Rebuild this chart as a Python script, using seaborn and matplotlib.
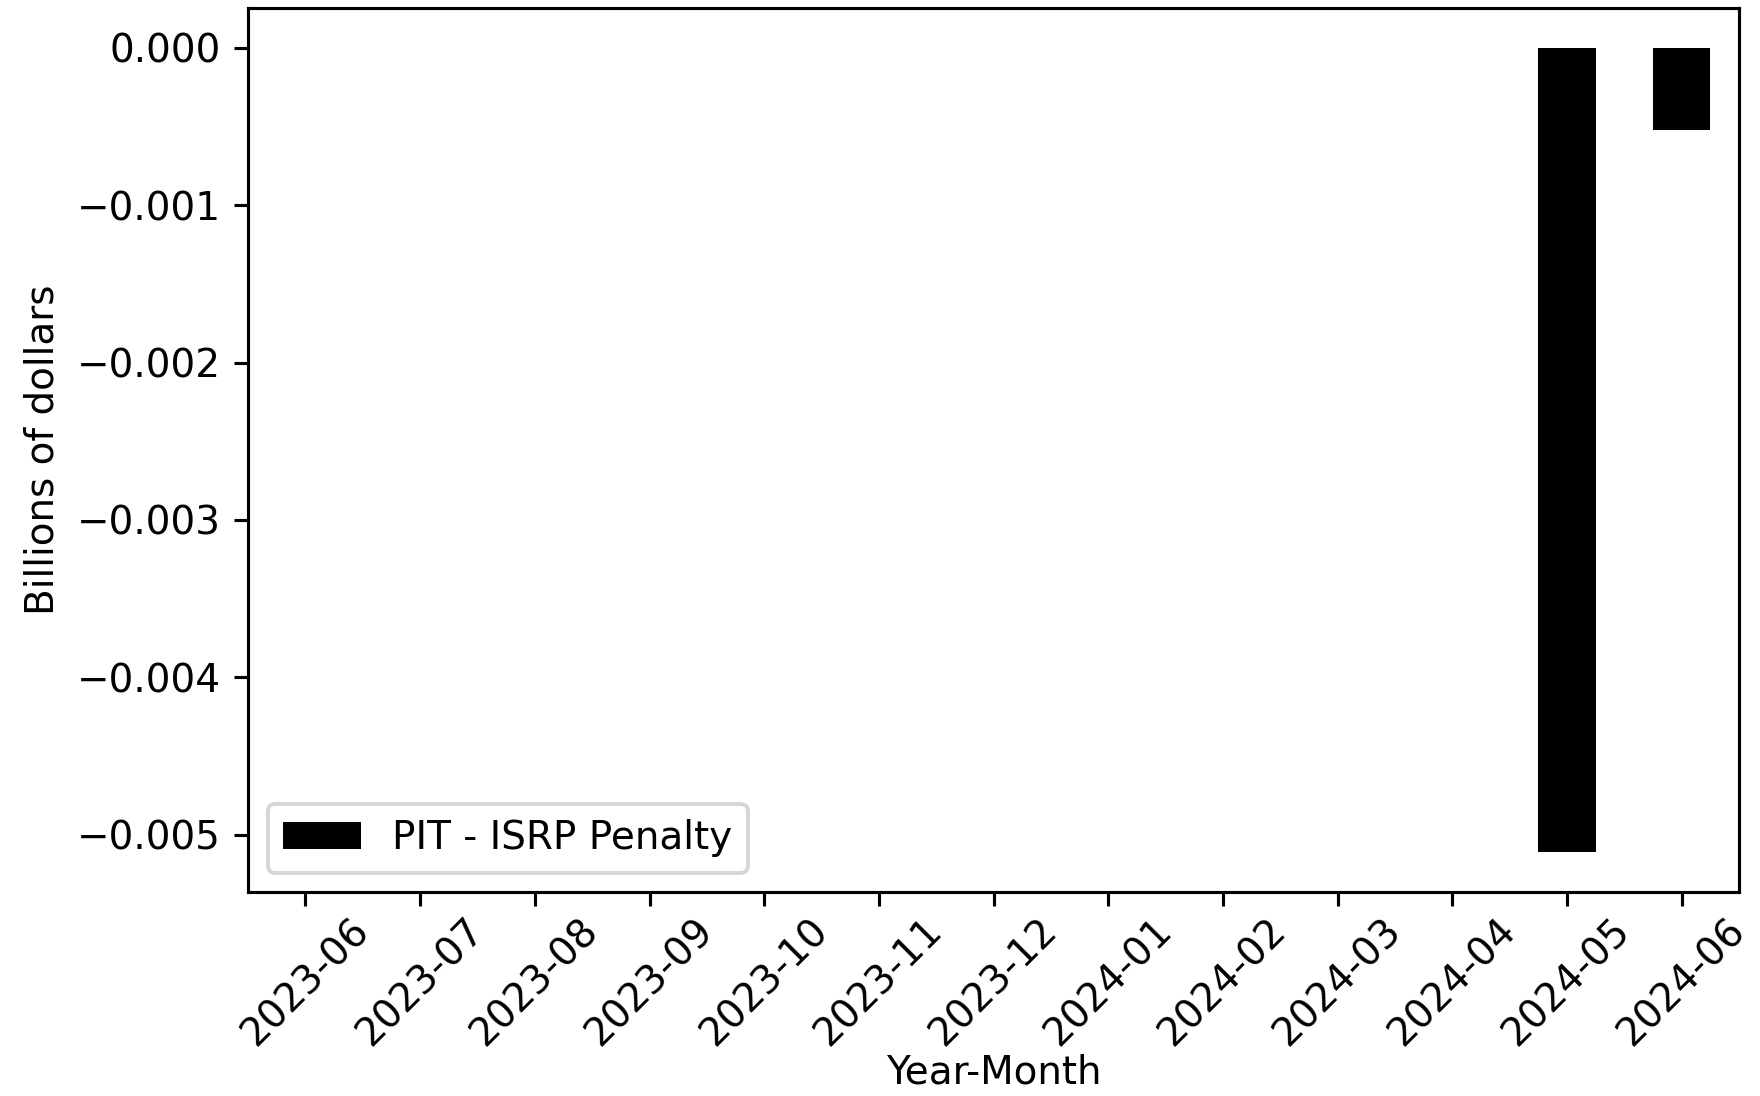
import matplotlib
matplotlib.use("Agg")
import matplotlib.pyplot as plt
import pandas as pd
import seaborn as sns

# monthly values, billions of dollars
months = ["2023-06", "2023-07", "2023-08", "2023-09", "2023-10", "2023-11", "2023-12",
          "2024-01", "2024-02", "2024-03", "2024-04", "2024-05", "2024-06"]
penalty = [0, 0, 0, 0, 0, 0, 0, 0, 0, 0, 0, -0.00511, -0.00052]

df = pd.DataFrame({"month": months, "value": penalty})

dpi = 280
fig, ax = plt.subplots(figsize=(1760 / dpi, 1096 / dpi), dpi=dpi)
sns.barplot(data=df, x="month", y="value", color="black", width=0.5,
            saturation=1, label="PIT - ISRP Penalty", ax=ax)
ax.set_xlim(-0.5, len(months) - 0.5)
lo, hi = min(penalty), max(penalty)
pad = 0.05 * (hi - lo)
ax.set_ylim(lo - pad, hi + pad)
ax.set_xlabel("Year-Month", labelpad=0)
ax.set_ylabel("Billions of dollars")
ax.tick_params(axis="x", labelrotation=45, pad=1.5)
ax.legend(loc="lower left")
fig.subplots_adjust(left=0.141, right=0.988, top=0.993, bottom=0.186)
fig.savefig("out.png", dpi=dpi)
